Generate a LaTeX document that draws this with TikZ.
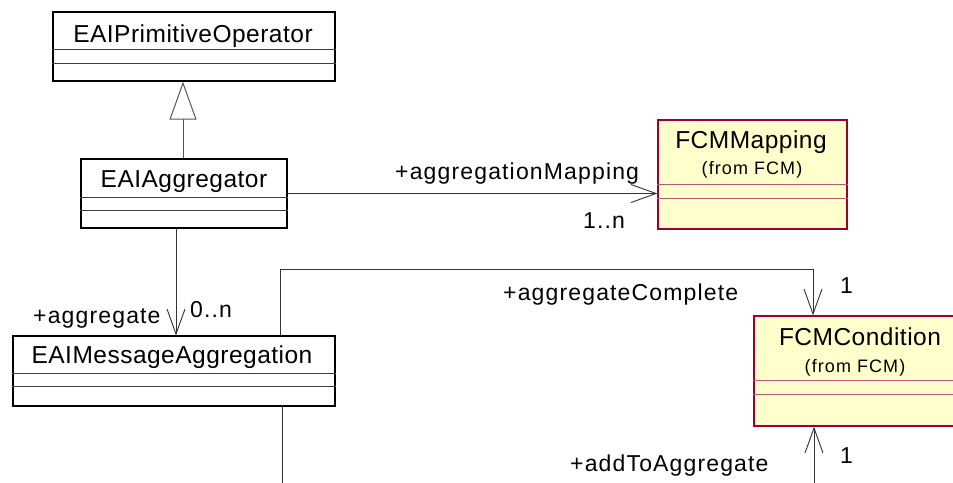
\documentclass[tikz,border=0pt]{standalone}
\usepackage{fontspec}
\setmainfont{Liberation Sans}
\newfontfamily\classfont[LetterSpace=2]{Liberation Sans}
\newfontfamily\rolefont[LetterSpace=5]{Liberation Sans}
\newfontfamily\fromfont[LetterSpace=6]{Liberation Sans}
\usetikzlibrary{arrows.meta, positioning, calc}
\definecolor{fcmred}{HTML}{990033}
\definecolor{fcmdiv}{HTML}{B85A6E}
\definecolor{fcmyellow}{HTML}{FFFFCC}
\definecolor{linkgray}{HTML}{333333}
\definecolor{gengray}{HTML}{555555}

\begin{document}
\begin{tikzpicture}[x=1pt, y=-1pt,
    classbox/.style={rectangle, draw=black, fill=white, line width=1.3pt, inner sep=0pt},
    fcmbox/.style={rectangle, draw=fcmred, fill=fcmyellow, line width=1.3pt, inner sep=0pt},
    divline/.style={draw=black!75, line width=0.9pt},
    fcmline/.style={draw=fcmdiv, line width=0.9pt},
    classname/.style={anchor=base, inner sep=0pt, font=\classfont\fontsize{24.5}{29}\selectfont},
    fromname/.style={anchor=base, inner sep=0pt, font=\fromfont\fontsize{18}{21}\selectfont},
    role/.style={anchor=base west, inner sep=0pt, font=\rolefont\fontsize{23}{27}\selectfont},
    assoc/.style={-{Straight Barb[length=25pt, width=18pt]}, line width=0.9pt, color=linkgray},
    link/.style={line width=0.9pt, color=linkgray},
    generalize/.style={-{Triangle[open, length=38pt, width=27pt]}, line width=1pt, color=gengray}
]
\useasboundingbox (0,0) rectangle (953,482);
\clip (0,0) rectangle (953,482);

% Classes
\node[classbox, minimum width=282pt, minimum height=69pt] (prim) at (194,46.5) {};
\node[classname] (primname) at (193,42) {EAIPrimitiveOperator};
\draw[divline] (prim.west |- 0,49) -- (prim.east |- 0,49);
\draw[divline] (prim.west |- 0,63) -- (prim.east |- 0,63);

\node[classbox, minimum width=206pt, minimum height=69pt] (agg) at (184,193.5) {};
\node[classname] (aggname) at (184,187) {EAIAggregator};
\draw[divline] (agg.west |- 0,197) -- (agg.east |- 0,197);
\draw[divline] (agg.west |- 0,210) -- (agg.east |- 0,210);

\node[classbox, minimum width=322pt, minimum height=70pt] (msg) at (174,371) {};
\node[classname] (msgname) at (172,363) {EAIMessageAggregation};
\draw[divline] (msg.west |- 0,373) -- (msg.east |- 0,373);
\draw[divline] (msg.west |- 0,386) -- (msg.east |- 0,386);

% Classes from FCM
\node[fcmbox, minimum width=189pt, minimum height=109pt] (map) at (752.5,174.5) {};
\node[classname] (mapname) at (751,148) {FCMMapping};
\node[fromname] (mapfrom) at (752,174) {(from FCM)};
\draw[fcmline] (map.west |- 0,184) -- (map.east |- 0,184);
\draw[fcmline] (map.west |- 0,198) -- (map.east |- 0,198);

\node[fcmbox, minimum width=210pt, minimum height=110pt] (cond) at (859,371) {};
\node[classname] (condname) at (860,345) {FCMCondition};
\node[fromname] (condfrom) at (855,372) {(from FCM)};
\draw[fcmline] (cond.west |- 0,380) -- (cond.east |- 0,380);
\draw[fcmline] (cond.west |- 0,394) -- (cond.east |- 0,394);

% Connectors
\draw[generalize] (agg.north -| 183,0) -- (prim.south -| 183,0);
\draw[assoc] (agg.east) -- (agg.east -| map.west);
\draw[assoc] (agg.south -| 176,0) -- (msg.north -| 176,0);
\coordinate (upleft) at (280,269);
\coordinate (upright) at (813,269);
\draw[assoc] (msg.north -| upleft) -- (upleft) -- (upright) -- (cond.north -| upright);
\coordinate (addend) at (814,495);
\draw[assoc] (addend) -- (cond.south -| addend);
\coordinate (msgend) at (282,495);
\draw[link] (msg.south -| msgend) -- (msgend);

% Role names and multiplicities
\node[role] (maprole) at (395,179) {+aggregationMapping};
\node[role] (mapmult) at (583,228) {1..n};
\node[role] (aggrole) at (33,323) {+aggregate};
\node[role] (aggmult) at (190,317) {0..n};
\node[role] (comprole) at (503,300) {+aggregateComplete};
\node[role] (compmult) at (840,293) {1};
\node[role] (addrole) at (570,471) {+addToAggregate};
\node[role] (addmult) at (840,463) {1};

\end{tikzpicture}
\end{document}
